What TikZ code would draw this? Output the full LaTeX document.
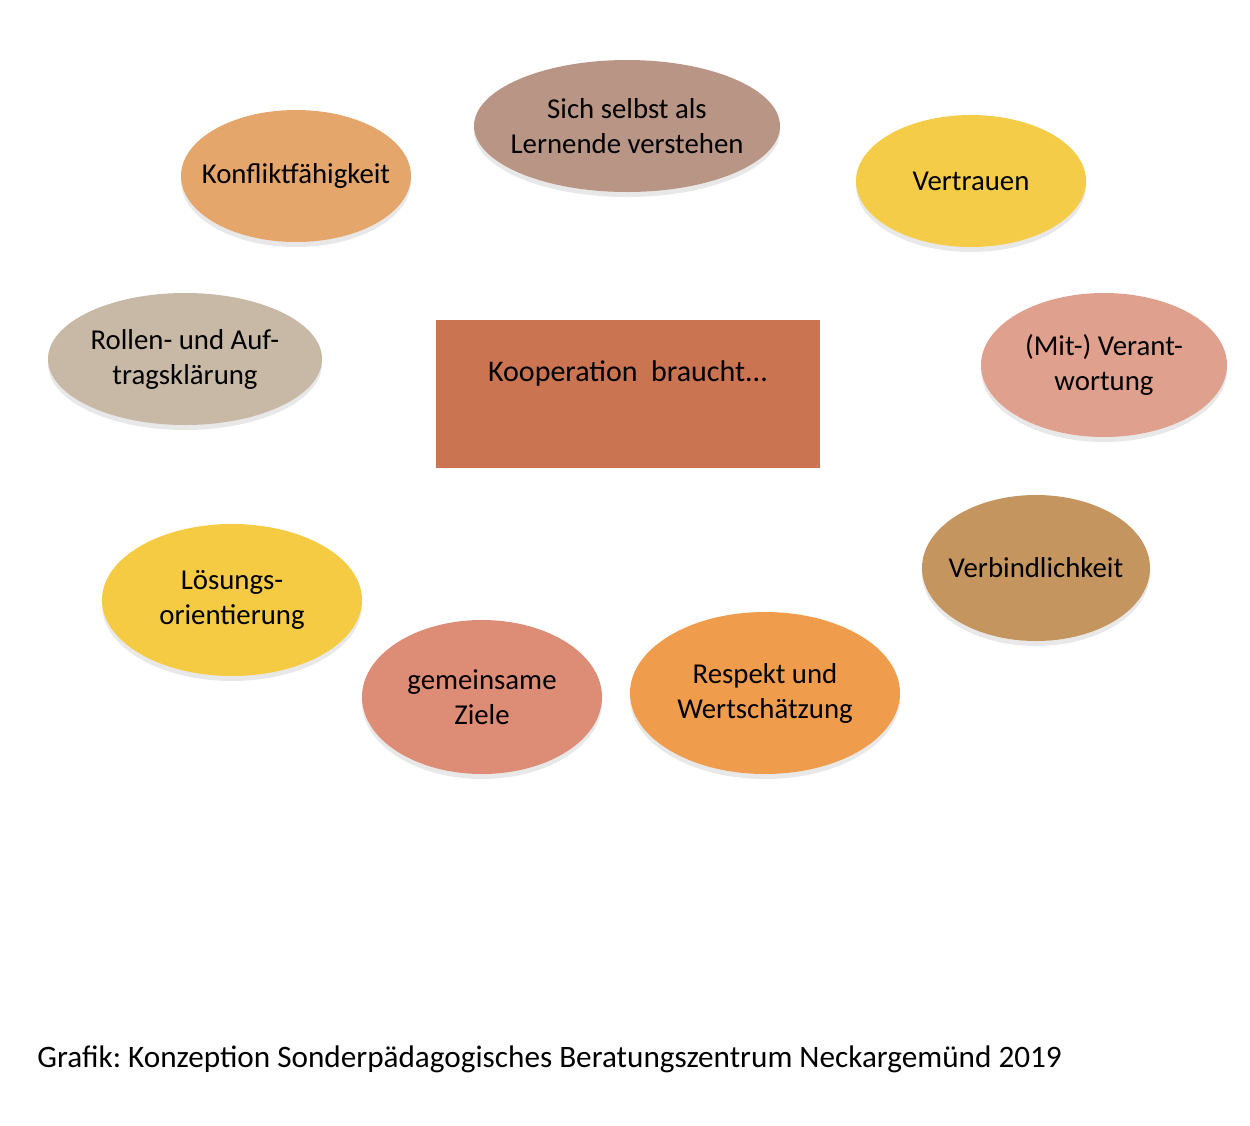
\documentclass[tikz,border=0pt]{standalone}
\usepackage{fontspec}
\setmainfont{Carlito}
\frenchspacing
\usetikzlibrary{shapes.geometric,shadows}
\definecolor{cSelbst}{HTML}{B89585}
\definecolor{cKonflikt}{HTML}{E4A66A}
\definecolor{cVertrauen}{HTML}{F5CC47}
\definecolor{cRollen}{HTML}{C8B8A6}
\definecolor{cVerant}{HTML}{E0A08E}
\definecolor{cKoop}{HTML}{CB7452}
\definecolor{cVerbind}{HTML}{C5955F}
\definecolor{cLoesung}{HTML}{F5CB44}
\definecolor{cZiele}{HTML}{DD8C76}
\definecolor{cRespekt}{HTML}{EF9D4C}

\begin{document}
\begin{tikzpicture}[x=0.5pt,y=-0.5pt]
        \tikzstyle{blob} = [ellipse,inner xsep=-30pt,inner ysep=0pt,align=center,font=\fontsize{14.4}{17.5}\selectfont,
          drop shadow={shadow xshift=0pt,shadow yshift=-2.5pt,opacity=0.18}]
        \useasboundingbox (0,0) rectangle (1250,1126);
        \node(selbst)[blob,fill=cSelbst,minimum width=153pt,minimum height=66pt] at (627,126) {Sich selbst als\\Lernende verstehen};
        \node(konflikt)[blob,fill=cKonflikt,minimum width=115pt,minimum height=66pt] at (296,176) {Konfliktfähigkeit};
        \node(vertrauen)[blob,fill=cVertrauen,minimum width=115pt,minimum height=66pt] at (971,181) {Vertrauen};
        \node(rollen)[blob,fill=cRollen,minimum width=137pt,minimum height=66pt] at (185,359) {Rollen- und Auf-\\tragsklärung};
        \node(verant)[blob,fill=cVerant,minimum width=123pt,minimum height=72pt] at (1104,365) {(Mit-) Verant-\\wortung};
        \node(verbind)[blob,fill=cVerbind,minimum width=114pt,minimum height=73pt] at (1036,568) {Verbindlichkeit};
        \node(loesung)[blob,fill=cLoesung,minimum width=130pt,minimum height=76pt] at (232,600) {Lösungs-\\orientierung};
        \node(ziele)[blob,fill=cZiele,minimum width=120pt,minimum height=77pt] at (482,697) {gemeinsame\\Ziele};
        \node(respekt)[blob,fill=cRespekt,minimum width=135pt,minimum height=81pt] at (765,693) {Respekt und\\Wertschätzung};
        \node(koop)[fill=cKoop,inner sep=0pt,minimum width=192pt,minimum height=74pt,text height=10pt,text depth=23pt,
          font=\fontsize{15}{17.5}\selectfont] at (628,394) {Kooperation~~braucht...};
        \node(quelle)[anchor=base west,inner sep=0pt,font=\fontsize{15.6}{18}\selectfont] at (37,1067)
          {Grafik: Konzeption Sonderpädagogisches Beratungszentrum Neckargemünd 2019};
      \end{tikzpicture}
\end{document}
